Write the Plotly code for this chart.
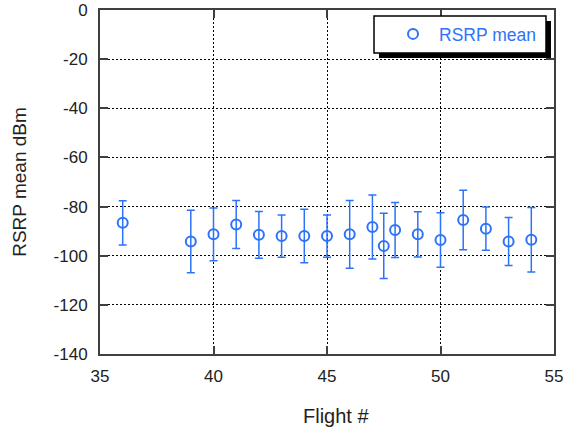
import plotly.graph_objects as go

flights = [36, 39, 40, 41, 42, 43, 44, 45, 46, 47, 47.5, 48, 49, 50, 51, 52, 53, 54]
rsrp_mean = [-86.6, -94.2, -91.3, -87.3, -91.5, -92.0, -92.0, -92.0, -91.3, -88.3,
             -96.0, -89.5, -91.3, -93.6, -85.5, -89.0, -94.2, -93.5]
rsrp_err = [9.0, 12.7, 10.7, 9.8, 9.5, 8.6, 10.9, 8.6, 13.8, 13.0,
            13.3, 11.2, 9.2, 11.1, 12.1, 8.8, 9.8, 13.1]

x_ticks = [35, 40, 45, 50, 55]
y_ticks = [0, -20, -40, -60, -80, -100, -120, -140]

blue = "rgb(45,115,250)"
FONT = "Liberation Sans, Arial, sans-serif"

fig = go.Figure()
fig.add_trace(go.Scatter(
    x=flights, y=rsrp_mean, mode="markers", name="RSRP mean",
    marker=dict(symbol="circle-open", size=10, color=blue, line=dict(width=2, color=blue)),
    error_y=dict(type="data", array=rsrp_err, visible=True, color=blue, thickness=1.5, width=4),
))

W, H = 570, 434
L, R, T, B = 100, 16, 10, 80
pw, ph = W - L - R, H - T - B

def px2paper(x, y):
    return (x - L) / pw, 1 - (y - T) / ph

# legend box with shadow
sx0, sy0 = px2paper(379, 21)
sx1, sy1 = px2paper(551, 58)
bx0, by0 = px2paper(374, 16)
bx1, by1 = px2paper(546, 53)
fig.add_shape(type="rect", xref="paper", yref="paper", x0=sx0, y0=sy0, x1=sx1, y1=sy1,
              fillcolor="black", line=dict(width=0), layer="above")
fig.add_shape(type="rect", xref="paper", yref="paper", x0=bx0, y0=by0, x1=bx1, y1=by1,
              fillcolor="white", line=dict(width=1.5, color="black"), layer="above")

lx, ly = px2paper(387, 16)

axis_common = dict(
    showline=True, linecolor="#404040", linewidth=2, mirror="allticks",
    ticks="inside", ticklen=8, tickcolor="#404040", tickwidth=1.5,
    showgrid=True, gridcolor="black", gridwidth=1, griddash="2px,2px",
    zeroline=False, automargin=False,
    tickfont=dict(family=FONT, size=17, color="#222222"),
)

tx, ty = px2paper(335.5, 416)
fig.add_annotation(text="Flight #", xref="paper", yref="paper", x=tx, y=ty,
                   xanchor="center", yanchor="middle", showarrow=False,
                   font=dict(family=FONT, size=20, color="#222222"))

fig.update_layout(
    width=W, height=H,
    margin=dict(l=L, r=R, t=T, b=B),
    paper_bgcolor="white", plot_bgcolor="white",
    showlegend=True,
    legend=dict(x=lx, y=ly, xanchor="left", yanchor="top", bgcolor="rgba(0,0,0,0)",
                borderwidth=0, itemwidth=42,
                font=dict(family=FONT, size=17.5, color=blue)),
    xaxis=dict(range=[35, 55], tickvals=x_ticks, ticktext=[str(v) for v in x_ticks],
               ticklabelstandoff=6, **axis_common),
    yaxis=dict(range=[-140, 0], tickvals=y_ticks, ticktext=[str(v) for v in y_ticks],
               title=dict(text="RSRP mean dBm", font=dict(family=FONT, size=19, color="#222222"), standoff=22),
               ticklabelstandoff=7, **axis_common),
)

fig.write_html("out.html")
